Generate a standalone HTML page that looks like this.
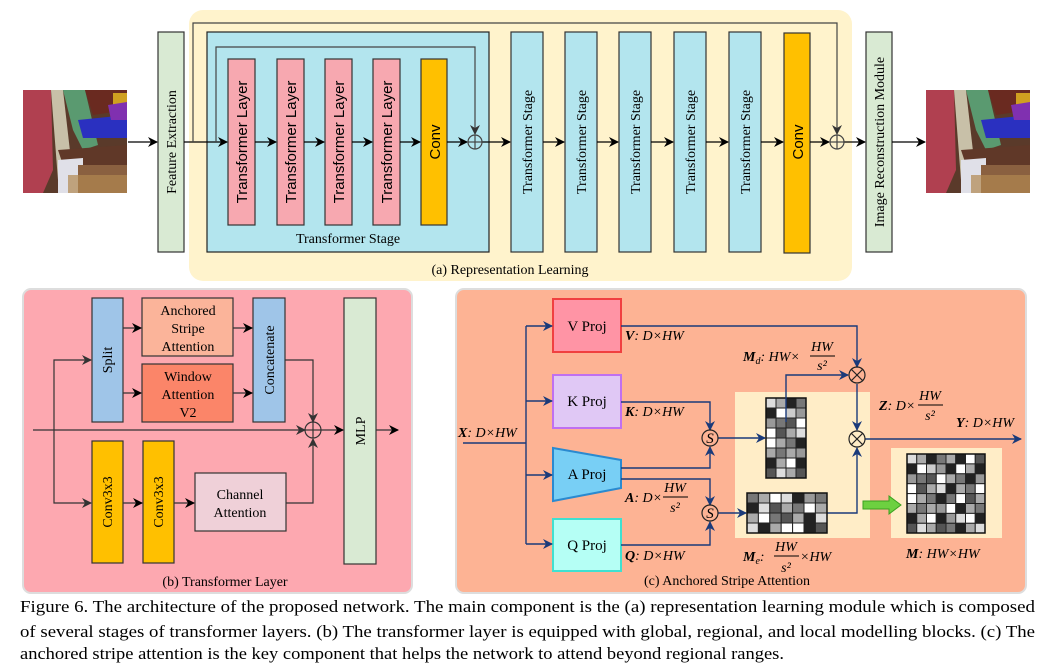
<!DOCTYPE html>
<html><head><meta charset="utf-8"><style>
html,body{margin:0;padding:0;background:#fff}
svg{display:block}
.s{font-family:"Liberation Serif",serif}
.a{font-family:"Liberation Sans",sans-serif}
</style></head><body>
<svg width="1053" height="666" viewBox="0 0 1053 666" xmlns="http://www.w3.org/2000/svg">
<defs>
<marker id="ak" markerWidth="10" markerHeight="10" refX="9" refY="5" orient="auto" markerUnits="userSpaceOnUse"><path d="M0,0 L10,5 L0,10 L3,5 Z" fill="#000"/></marker>
<marker id="ag" markerWidth="10" markerHeight="10" refX="9" refY="5" orient="auto" markerUnits="userSpaceOnUse"><path d="M0,0 L10,5 L0,10 L3,5 Z" fill="#333"/></marker>
<marker id="ab" markerWidth="10" markerHeight="10" refX="9" refY="5" orient="auto" markerUnits="userSpaceOnUse"><path d="M0,0 L10,5 L0,10 L3,5 Z" fill="#1a3a7a"/></marker>
<g id="photo">
<rect x="0" y="0" width="104" height="103" fill="#5a3a2a"/>
<path d="M0,0 L28,0 L30,80 L20,103 L0,103Z" fill="#b04050"/>
<path d="M28,0 L40,0 L48,70 L35,90Z" fill="#c8c0a8"/>
<path d="M40,0 L62,0 L75,55 L60,60 L50,40Z" fill="#5a9a70"/>
<path d="M62,0 L104,0 L104,20 L70,25Z" fill="#6a2a20"/>
<rect x="90" y="3" width="14" height="20" fill="#d0a020"/>
<path d="M55,30 L104,25 L104,48 L60,48Z" fill="#2a30c0"/>
<path d="M85,15 L104,12 L104,30 L88,30Z" fill="#8030b0"/>
<path d="M35,60 L104,55 L104,75 L40,75Z" fill="#603828"/>
<path d="M35,70 L60,68 L60,103 L35,103Z" fill="#e0e0e8"/>
<path d="M55,75 L104,75 L104,103 L55,103Z" fill="#8a6040"/>
<path d="M45,85 L104,85 L104,103 L45,103Z" fill="#b08850" opacity=".7"/>
</g>
</defs>

<!-- (a) top panel -->
<rect x="189" y="10" width="663" height="271" rx="14" fill="#fff3cc"/>
<use href="#photo" x="23" y="90"/>
<use href="#photo" x="926" y="90"/>
<rect x="158" y="32" width="26" height="220" fill="#d9ead3" stroke="#333" stroke-width="1.2"/>
<text class="s" font-size="14" transform="translate(176,142) rotate(-90)" text-anchor="middle">Feature Extraction</text>
<rect x="207" y="32" width="282" height="220" fill="#b3e5ee" stroke="#222" stroke-width="1.2"/>
<g fill="#f7a8b0" stroke="#333" stroke-width="1.2">
<rect x="228" y="59" width="27" height="166"/><rect x="277" y="59" width="27" height="166"/>
<rect x="325" y="59" width="27" height="166"/><rect x="373" y="59" width="27" height="166"/>
</g>
<rect x="421" y="59" width="26" height="166" fill="#ffc000" stroke="#333" stroke-width="1.2"/>
<g class="a" font-size="15">
<text transform="translate(247,142) rotate(-90)" text-anchor="middle">Transformer Layer</text>
<text transform="translate(296,142) rotate(-90)" text-anchor="middle">Transformer Layer</text>
<text transform="translate(344,142) rotate(-90)" text-anchor="middle">Transformer Layer</text>
<text transform="translate(392,142) rotate(-90)" text-anchor="middle">Transformer Layer</text>
<text transform="translate(440,142) rotate(-90)" text-anchor="middle">Conv</text>
</g>
<text class="s" font-size="14" x="348" y="243" text-anchor="middle">Transformer Stage</text>
<g fill="#b3e5ee" stroke="#333" stroke-width="1.2">
<rect x="511" y="32" width="32" height="220"/><rect x="565" y="32" width="32" height="220"/>
<rect x="619" y="32" width="32" height="220"/><rect x="674" y="32" width="32" height="220"/>
<rect x="729" y="32" width="32" height="220"/>
</g>
<rect x="784" y="33" width="26" height="220" fill="#ffc000" stroke="#333" stroke-width="1.2"/>
<g class="s" font-size="14">
<text transform="translate(532,142) rotate(-90)" text-anchor="middle">Transformer Stage</text>
<text transform="translate(586,142) rotate(-90)" text-anchor="middle">Transformer Stage</text>
<text transform="translate(640,142) rotate(-90)" text-anchor="middle">Transformer Stage</text>
<text transform="translate(695,142) rotate(-90)" text-anchor="middle">Transformer Stage</text>
<text transform="translate(750,142) rotate(-90)" text-anchor="middle">Transformer Stage</text>
</g>
<text class="a" font-size="15" transform="translate(803,142) rotate(-90)" text-anchor="middle">Conv</text>
<rect x="866" y="32" width="26" height="220" fill="#d9ead3" stroke="#333" stroke-width="1.2"/>
<text class="s" font-size="14" transform="translate(884,142) rotate(-90)" text-anchor="middle">Image Reconstruction Module</text>
<text class="s" font-size="14" x="510" y="274" text-anchor="middle">(a) Representation Learning</text>
<g stroke="#000" stroke-width="1.2" fill="none">
<line x1="128" y1="142" x2="157" y2="142" marker-end="url(#ak)"/>
<line x1="184" y1="142" x2="227" y2="142" marker-end="url(#ak)"/>
<line x1="255" y1="142" x2="276" y2="142" marker-end="url(#ak)"/>
<line x1="304" y1="142" x2="324" y2="142" marker-end="url(#ak)"/>
<line x1="352" y1="142" x2="372" y2="142" marker-end="url(#ak)"/>
<line x1="400" y1="142" x2="420" y2="142" marker-end="url(#ak)"/>
<line x1="447" y1="142" x2="467" y2="142" marker-end="url(#ak)"/>
<line x1="482" y1="142" x2="510" y2="142" marker-end="url(#ak)"/>
<line x1="543" y1="142" x2="564" y2="142" marker-end="url(#ak)"/>
<line x1="597" y1="142" x2="618" y2="142" marker-end="url(#ak)"/>
<line x1="651" y1="142" x2="673" y2="142" marker-end="url(#ak)"/>
<line x1="706" y1="142" x2="728" y2="142" marker-end="url(#ak)"/>
<line x1="761" y1="142" x2="783" y2="142" marker-end="url(#ak)"/>
<line x1="810" y1="142" x2="829" y2="142" marker-end="url(#ak)"/>
<line x1="844" y1="142" x2="865" y2="142" marker-end="url(#ak)"/>
<line x1="892" y1="142" x2="925" y2="142" marker-end="url(#ak)"/>
</g>
<g stroke="#444" stroke-width="1.2" fill="none">
<polyline points="216,142 216,47 475,47 475,134" marker-end="url(#ag)"/>
<polyline points="193,142 193,23 837,23 837,134" marker-end="url(#ag)"/>
<circle cx="475" cy="142" r="7"/><line x1="468" y1="142" x2="482" y2="142"/><line x1="475" y1="135" x2="475" y2="149"/>
<circle cx="837" cy="142" r="7"/><line x1="830" y1="142" x2="844" y2="142"/><line x1="837" y1="135" x2="837" y2="149"/>
</g>

<!-- (b) -->
<rect x="23" y="289" width="389" height="304" rx="8" fill="#fda8b0" stroke="#ddd" stroke-width="2"/>
<rect x="92" y="298" width="31" height="124" fill="#9fc5e8" stroke="#333" stroke-width="1.2"/>
<rect x="142" y="298" width="91" height="58" fill="#fbb49a" stroke="#333" stroke-width="1.2"/>
<rect x="142" y="364" width="91" height="58" fill="#fb8569" stroke="#333" stroke-width="1.2"/>
<rect x="253" y="298" width="32" height="124" fill="#9fc5e8" stroke="#333" stroke-width="1.2"/>
<rect x="344" y="298" width="32" height="266" fill="#d9ead3" stroke="#333" stroke-width="1.2"/>
<rect x="92" y="441" width="31" height="122" fill="#ffc000" stroke="#333" stroke-width="1.2"/>
<rect x="143" y="441" width="31" height="122" fill="#ffc000" stroke="#333" stroke-width="1.2"/>
<rect x="195" y="473" width="91" height="58" fill="#efd0d8" stroke="#333" stroke-width="1.2"/>
<g class="s" font-size="14" text-anchor="middle">
<text transform="translate(112,360) rotate(-90)">Split</text>
<text transform="translate(274,360) rotate(-90)">Concatenate</text>
<text transform="translate(365,431) rotate(-90)">MLP</text>
<text transform="translate(112,502) rotate(-90)">Conv3x3</text>
<text transform="translate(163,502) rotate(-90)">Conv3x3</text>
<text x="188" y="315">Anchored</text><text x="188" y="333">Stripe</text><text x="188" y="351">Attention</text>
<text x="188" y="381">Window</text><text x="188" y="399">Attention</text><text x="188" y="417">V2</text>
<text x="240" y="499">Channel</text><text x="240" y="517">Attention</text>
<text x="225" y="586">(b) Transformer Layer</text>
</g>
<g stroke="#333" stroke-width="1.2" fill="none">
<line x1="33" y1="430" x2="305" y2="430" marker-end="url(#ag)"/>
<polyline points="54,430 54,360 91,360" marker-end="url(#ag)"/>
<polyline points="54,430 54,503 91,503" marker-end="url(#ag)"/>
<line x1="123" y1="328" x2="141" y2="328" marker-end="url(#ak)"/>
<line x1="123" y1="393" x2="141" y2="393" marker-end="url(#ak)"/>
<line x1="233" y1="328" x2="252" y2="328" marker-end="url(#ak)"/>
<line x1="233" y1="393" x2="252" y2="393" marker-end="url(#ak)"/>
<line x1="123" y1="503" x2="142" y2="503" marker-end="url(#ak)"/>
<line x1="174" y1="503" x2="194" y2="503" marker-end="url(#ak)"/>
<polyline points="285,360 313,360 313,422" marker-end="url(#ag)"/>
<polyline points="286,503 313,503 313,439" marker-end="url(#ag)"/>
<line x1="321" y1="430" x2="343" y2="430" marker-end="url(#ak)"/>
<line x1="376" y1="430" x2="398" y2="430" marker-end="url(#ak)"/>
<circle cx="313" cy="430" r="8"/><line x1="305" y1="430" x2="321" y2="430"/><line x1="313" y1="422" x2="313" y2="438"/>
</g>

<!-- (c) -->
<rect x="456" y="289" width="570" height="304" rx="8" fill="#fdb394" stroke="#ddd" stroke-width="2"/>
<rect x="735" y="392" width="135" height="146" fill="#fff3cc" opacity=".9"/>
<rect x="891" y="448" width="111" height="90" fill="#fff3cc" opacity=".9"/>
<rect x="553" y="299" width="68" height="53" fill="#ff94a5" stroke="#f04040" stroke-width="2"/>
<rect x="553" y="375" width="68" height="53" fill="#e0c8f5" stroke="#c070f0" stroke-width="2"/>
<polygon points="553,448 621,460 621,488 553,501" fill="#78cff5" stroke="#2a8ad0" stroke-width="2"/>
<rect x="553" y="519" width="68" height="52" fill="#b5fff5" stroke="#40e0d0" stroke-width="2"/>
<g class="s" font-size="15" text-anchor="middle">
<text x="587" y="331">V Proj</text><text x="587" y="406">K Proj</text>
<text x="587" y="479">A Proj</text><text x="587" y="550">Q Proj</text>
<text x="727" y="585" font-size="14">(c) Anchored Stripe Attention</text>
</g>
<g stroke="#1a3a7a" stroke-width="1.4" fill="none">
<line x1="463" y1="443" x2="526" y2="443"/>
<polyline points="526,326 526,544"/>
<line x1="526" y1="326" x2="552" y2="326" marker-end="url(#ab)"/>
<line x1="526" y1="401" x2="552" y2="401" marker-end="url(#ab)"/>
<line x1="526" y1="475" x2="552" y2="475" marker-end="url(#ab)"/>
<line x1="526" y1="544" x2="552" y2="544" marker-end="url(#ab)"/>
<polyline points="621,326 857,326 857,367" marker-end="url(#ab)"/>
<polyline points="621,402 710,402 710,430" marker-end="url(#ab)"/>
<polyline points="621,468 710,468 710,447" marker-end="url(#ab)"/>
<polyline points="621,479 710,479 710,505" marker-end="url(#ab)"/>
<polyline points="621,545 710,545 710,522" marker-end="url(#ab)"/>
<line x1="718" y1="438" x2="765" y2="438" marker-end="url(#ab)"/>
<line x1="718" y1="513" x2="746" y2="513" marker-end="url(#ab)"/>
<polyline points="826,513 857,513 857,448" marker-end="url(#ab)"/>
<line x1="857" y1="384" x2="857" y2="430" marker-end="url(#ab)"/>
<line x1="865" y1="439" x2="1021" y2="439" marker-end="url(#ab)"/>
</g>
<g stroke="#222" stroke-width="1.2" fill="none">
<circle cx="710" cy="438" r="8" fill="#fdb394"/><circle cx="710" cy="513" r="8" fill="#fdb394"/>
<circle cx="857" cy="375" r="8"/><line x1="851" y1="369" x2="863" y2="381"/><line x1="863" y1="369" x2="851" y2="381"/>
<circle cx="857" cy="439" r="8"/><line x1="851" y1="433" x2="863" y2="445"/><line x1="863" y1="433" x2="851" y2="445"/>
</g>
<text class="s" font-style="italic" font-size="15" x="710" y="443" text-anchor="middle">S</text>
<text class="s" font-style="italic" font-size="15" x="710" y="518" text-anchor="middle">S</text>

<g stroke="#222" stroke-width="1">
<g transform="translate(766,398)">
<rect x="0" y="0" width="10" height="10" fill="#ddd"/><rect x="10" y="0" width="10" height="10" fill="#aaa"/><rect x="20" y="0" width="10" height="10" fill="#222"/><rect x="30" y="0" width="10" height="10" fill="#777"/>
<rect x="0" y="10" width="10" height="10" fill="#222"/><rect x="10" y="10" width="10" height="10" fill="#fff"/><rect x="20" y="10" width="10" height="10" fill="#ccc"/><rect x="30" y="10" width="10" height="10" fill="#999"/>
<rect x="0" y="20" width="10" height="10" fill="#999"/><rect x="10" y="20" width="10" height="10" fill="#777"/><rect x="20" y="20" width="10" height="10" fill="#555"/><rect x="30" y="20" width="10" height="10" fill="#fff"/>
<rect x="0" y="30" width="10" height="10" fill="#fff"/><rect x="10" y="30" width="10" height="10" fill="#555"/><rect x="20" y="30" width="10" height="10" fill="#aaa"/><rect x="30" y="30" width="10" height="10" fill="#ddd"/>
<rect x="0" y="40" width="10" height="10" fill="#fff"/><rect x="10" y="40" width="10" height="10" fill="#aaa"/><rect x="20" y="40" width="10" height="10" fill="#777"/><rect x="30" y="40" width="10" height="10" fill="#222"/>
<rect x="0" y="50" width="10" height="10" fill="#aaa"/><rect x="10" y="50" width="10" height="10" fill="#777"/><rect x="20" y="50" width="10" height="10" fill="#aaa"/><rect x="30" y="50" width="10" height="10" fill="#999"/>
<rect x="0" y="60" width="10" height="10" fill="#222"/><rect x="10" y="60" width="10" height="10" fill="#aaa"/><rect x="20" y="60" width="10" height="10" fill="#fff"/><rect x="30" y="60" width="10" height="10" fill="#222"/>
<rect x="0" y="70" width="10" height="10" fill="#555"/><rect x="10" y="70" width="10" height="10" fill="#ddd"/><rect x="20" y="70" width="10" height="10" fill="#aaa"/><rect x="30" y="70" width="10" height="10" fill="#555"/>
</g>
<g transform="translate(747,493)">
<rect x="0" y="0" width="11.4" height="10" fill="#777"/><rect x="11.4" y="0" width="11.4" height="10" fill="#aaa"/><rect x="22.8" y="0" width="11.4" height="10" fill="#fff"/><rect x="34.2" y="0" width="11.4" height="10" fill="#ddd"/><rect x="45.6" y="0" width="11.4" height="10" fill="#222"/><rect x="57" y="0" width="11.4" height="10" fill="#999"/><rect x="68.4" y="0" width="11.6" height="10" fill="#777"/>
<rect x="0" y="10" width="11.4" height="10" fill="#222"/><rect x="11.4" y="10" width="11.4" height="10" fill="#ddd"/><rect x="22.8" y="10" width="11.4" height="10" fill="#555"/><rect x="34.2" y="10" width="11.4" height="10" fill="#aaa"/><rect x="45.6" y="10" width="11.4" height="10" fill="#777"/><rect x="57" y="10" width="11.4" height="10" fill="#fff"/><rect x="68.4" y="10" width="11.6" height="10" fill="#aaa"/>
<rect x="0" y="20" width="11.4" height="10" fill="#aaa"/><rect x="11.4" y="20" width="11.4" height="10" fill="#fff"/><rect x="22.8" y="20" width="11.4" height="10" fill="#777"/><rect x="34.2" y="20" width="11.4" height="10" fill="#555"/><rect x="45.6" y="20" width="11.4" height="10" fill="#aaa"/><rect x="57" y="20" width="11.4" height="10" fill="#222"/><rect x="68.4" y="20" width="11.6" height="10" fill="#ddd"/>
<rect x="0" y="30" width="11.4" height="10" fill="#ddd"/><rect x="11.4" y="30" width="11.4" height="10" fill="#222"/><rect x="22.8" y="30" width="11.4" height="10" fill="#aaa"/><rect x="34.2" y="30" width="11.4" height="10" fill="#fff"/><rect x="45.6" y="30" width="11.4" height="10" fill="#fff"/><rect x="57" y="30" width="11.4" height="10" fill="#222"/><rect x="68.4" y="30" width="11.6" height="10" fill="#555"/>
</g>
<g transform="translate(907,454)">
<rect x="0" y="0" width="9.75" height="9.9" fill="#ddd"/><rect x="9.75" y="0" width="9.75" height="9.9" fill="#aaa"/><rect x="19.5" y="0" width="9.75" height="9.9" fill="#222"/><rect x="29.25" y="0" width="9.75" height="9.9" fill="#777"/><rect x="39" y="0" width="9.75" height="9.9" fill="#aaa"/><rect x="48.75" y="0" width="9.75" height="9.9" fill="#222"/><rect x="58.5" y="0" width="9.75" height="9.9" fill="#fff"/><rect x="68.25" y="0" width="9.75" height="9.9" fill="#555"/>
<rect x="0" y="9.9" width="9.75" height="9.9" fill="#222"/><rect x="9.75" y="9.9" width="9.75" height="9.9" fill="#fff"/><rect x="19.5" y="9.9" width="9.75" height="9.9" fill="#ccc"/><rect x="29.25" y="9.9" width="9.75" height="9.9" fill="#999"/><rect x="39" y="9.9" width="9.75" height="9.9" fill="#222"/><rect x="48.75" y="9.9" width="9.75" height="9.9" fill="#fff"/><rect x="58.5" y="9.9" width="9.75" height="9.9" fill="#aaa"/><rect x="68.25" y="9.9" width="9.75" height="9.9" fill="#222"/>
<rect x="0" y="19.8" width="9.75" height="9.9" fill="#999"/><rect x="9.75" y="19.8" width="9.75" height="9.9" fill="#777"/><rect x="19.5" y="19.8" width="9.75" height="9.9" fill="#555"/><rect x="29.25" y="19.8" width="9.75" height="9.9" fill="#fff"/><rect x="39" y="19.8" width="9.75" height="9.9" fill="#aaa"/><rect x="48.75" y="19.8" width="9.75" height="9.9" fill="#777"/><rect x="58.5" y="19.8" width="9.75" height="9.9" fill="#222"/><rect x="68.25" y="19.8" width="9.75" height="9.9" fill="#999"/>
<rect x="0" y="29.7" width="9.75" height="9.9" fill="#fff"/><rect x="9.75" y="29.7" width="9.75" height="9.9" fill="#555"/><rect x="19.5" y="29.7" width="9.75" height="9.9" fill="#aaa"/><rect x="29.25" y="29.7" width="9.75" height="9.9" fill="#ddd"/><rect x="39" y="29.7" width="9.75" height="9.9" fill="#222"/><rect x="48.75" y="29.7" width="9.75" height="9.9" fill="#aaa"/><rect x="58.5" y="29.7" width="9.75" height="9.9" fill="#777"/><rect x="68.25" y="29.7" width="9.75" height="9.9" fill="#fff"/>
<rect x="0" y="39.6" width="9.75" height="9.9" fill="#fff"/><rect x="9.75" y="39.6" width="9.75" height="9.9" fill="#aaa"/><rect x="19.5" y="39.6" width="9.75" height="9.9" fill="#777"/><rect x="29.25" y="39.6" width="9.75" height="9.9" fill="#222"/><rect x="39" y="39.6" width="9.75" height="9.9" fill="#777"/><rect x="48.75" y="39.6" width="9.75" height="9.9" fill="#fff"/><rect x="58.5" y="39.6" width="9.75" height="9.9" fill="#555"/><rect x="68.25" y="39.6" width="9.75" height="9.9" fill="#aaa"/>
<rect x="0" y="49.5" width="9.75" height="9.9" fill="#aaa"/><rect x="9.75" y="49.5" width="9.75" height="9.9" fill="#777"/><rect x="19.5" y="49.5" width="9.75" height="9.9" fill="#aaa"/><rect x="29.25" y="49.5" width="9.75" height="9.9" fill="#999"/><rect x="39" y="49.5" width="9.75" height="9.9" fill="#fff"/><rect x="48.75" y="49.5" width="9.75" height="9.9" fill="#222"/><rect x="58.5" y="49.5" width="9.75" height="9.9" fill="#aaa"/><rect x="68.25" y="49.5" width="9.75" height="9.9" fill="#777"/>
<rect x="0" y="59.4" width="9.75" height="9.9" fill="#222"/><rect x="9.75" y="59.4" width="9.75" height="9.9" fill="#aaa"/><rect x="19.5" y="59.4" width="9.75" height="9.9" fill="#fff"/><rect x="29.25" y="59.4" width="9.75" height="9.9" fill="#222"/><rect x="39" y="59.4" width="9.75" height="9.9" fill="#999"/><rect x="48.75" y="59.4" width="9.75" height="9.9" fill="#ddd"/><rect x="58.5" y="59.4" width="9.75" height="9.9" fill="#fff"/><rect x="68.25" y="59.4" width="9.75" height="9.9" fill="#222"/>
<rect x="0" y="69.3" width="9.75" height="9.7" fill="#555"/><rect x="9.75" y="69.3" width="9.75" height="9.7" fill="#ddd"/><rect x="19.5" y="69.3" width="9.75" height="9.7" fill="#aaa"/><rect x="29.25" y="69.3" width="9.75" height="9.7" fill="#555"/><rect x="39" y="69.3" width="9.75" height="9.7" fill="#777"/><rect x="48.75" y="69.3" width="9.75" height="9.7" fill="#222"/><rect x="58.5" y="69.3" width="9.75" height="9.7" fill="#aaa"/><rect x="68.25" y="69.3" width="9.75" height="9.7" fill="#ddd"/>
</g>
</g>
<rect x="766" y="398" width="40" height="80" fill="none" stroke="#111" stroke-width="1.5"/>
<rect x="747" y="493" width="80" height="40" fill="none" stroke="#111" stroke-width="1.5"/>
<rect x="907" y="454" width="78" height="79" fill="none" stroke="#111" stroke-width="1.5"/>
<polyline points="786,422 786,375 848,375" fill="none" stroke="#1a3a7a" stroke-width="1.4" marker-end="url(#ab)"/>
<polygon points="863,501 889,501 889,496 901,505 889,514 889,509 863,509" fill="#6dd040" stroke="#3aa020" stroke-width="1"/>

<g class="s" font-style="italic" font-size="14">
<text x="458" y="437"><tspan font-weight="bold">X</tspan>: D×HW</text>
<text x="625" y="340"><tspan font-weight="bold">V</tspan>: D×HW</text>
<text x="625" y="416"><tspan font-weight="bold">K</tspan>: D×HW</text>
<text x="625" y="560"><tspan font-weight="bold">Q</tspan>: D×HW</text>
<text x="625" y="502"><tspan font-weight="bold">A</tspan>: D×</text>
<text x="675" y="492" text-anchor="middle">HW</text><line x1="663" y1="497" x2="688" y2="497" stroke="#000"/><text x="675" y="512" text-anchor="middle">s²</text>
<text x="743" y="361"><tspan font-weight="bold">M</tspan><tspan font-size="10" dy="3">d</tspan><tspan dy="-3">: HW×</tspan></text>
<text x="822" y="351" text-anchor="middle">HW</text><line x1="810" y1="356" x2="835" y2="356" stroke="#000"/><text x="822" y="370" text-anchor="middle">s²</text>
<text x="879" y="410"><tspan font-weight="bold">Z</tspan>: D×</text>
<text x="930" y="400" text-anchor="middle">HW</text><line x1="918" y1="405" x2="943" y2="405" stroke="#000"/><text x="930" y="420" text-anchor="middle">s²</text>
<text x="956" y="427"><tspan font-weight="bold">Y</tspan>: D×HW</text>
<text x="743" y="561"><tspan font-weight="bold">M</tspan><tspan font-size="10" dy="3">e</tspan><tspan dy="-3">:</tspan></text>
<text x="786" y="551" text-anchor="middle">HW</text><line x1="774" y1="556" x2="799" y2="556" stroke="#000"/><text x="786" y="572" text-anchor="middle">s²</text>
<text x="800" y="561">×HW</text>
<text x="906" y="558"><tspan font-weight="bold">M</tspan>: HW×HW</text>
</g>

<g class="s" font-size="17">
<text x="20" y="612" textLength="1015" lengthAdjust="spacingAndGlyphs">Figure 6. The architecture of the proposed network. The main component is the (a) representation learning module which is composed</text>
<text x="20" y="637" textLength="1015" lengthAdjust="spacingAndGlyphs">of several stages of transformer layers. (b) The transformer layer is equipped with global, regional, and local modelling blocks. (c) The</text>
<text x="20" y="659" textLength="764" lengthAdjust="spacingAndGlyphs">anchored stripe attention is the key component that helps the network to attend beyond regional ranges.</text>
</g>
</svg>
</body></html>
